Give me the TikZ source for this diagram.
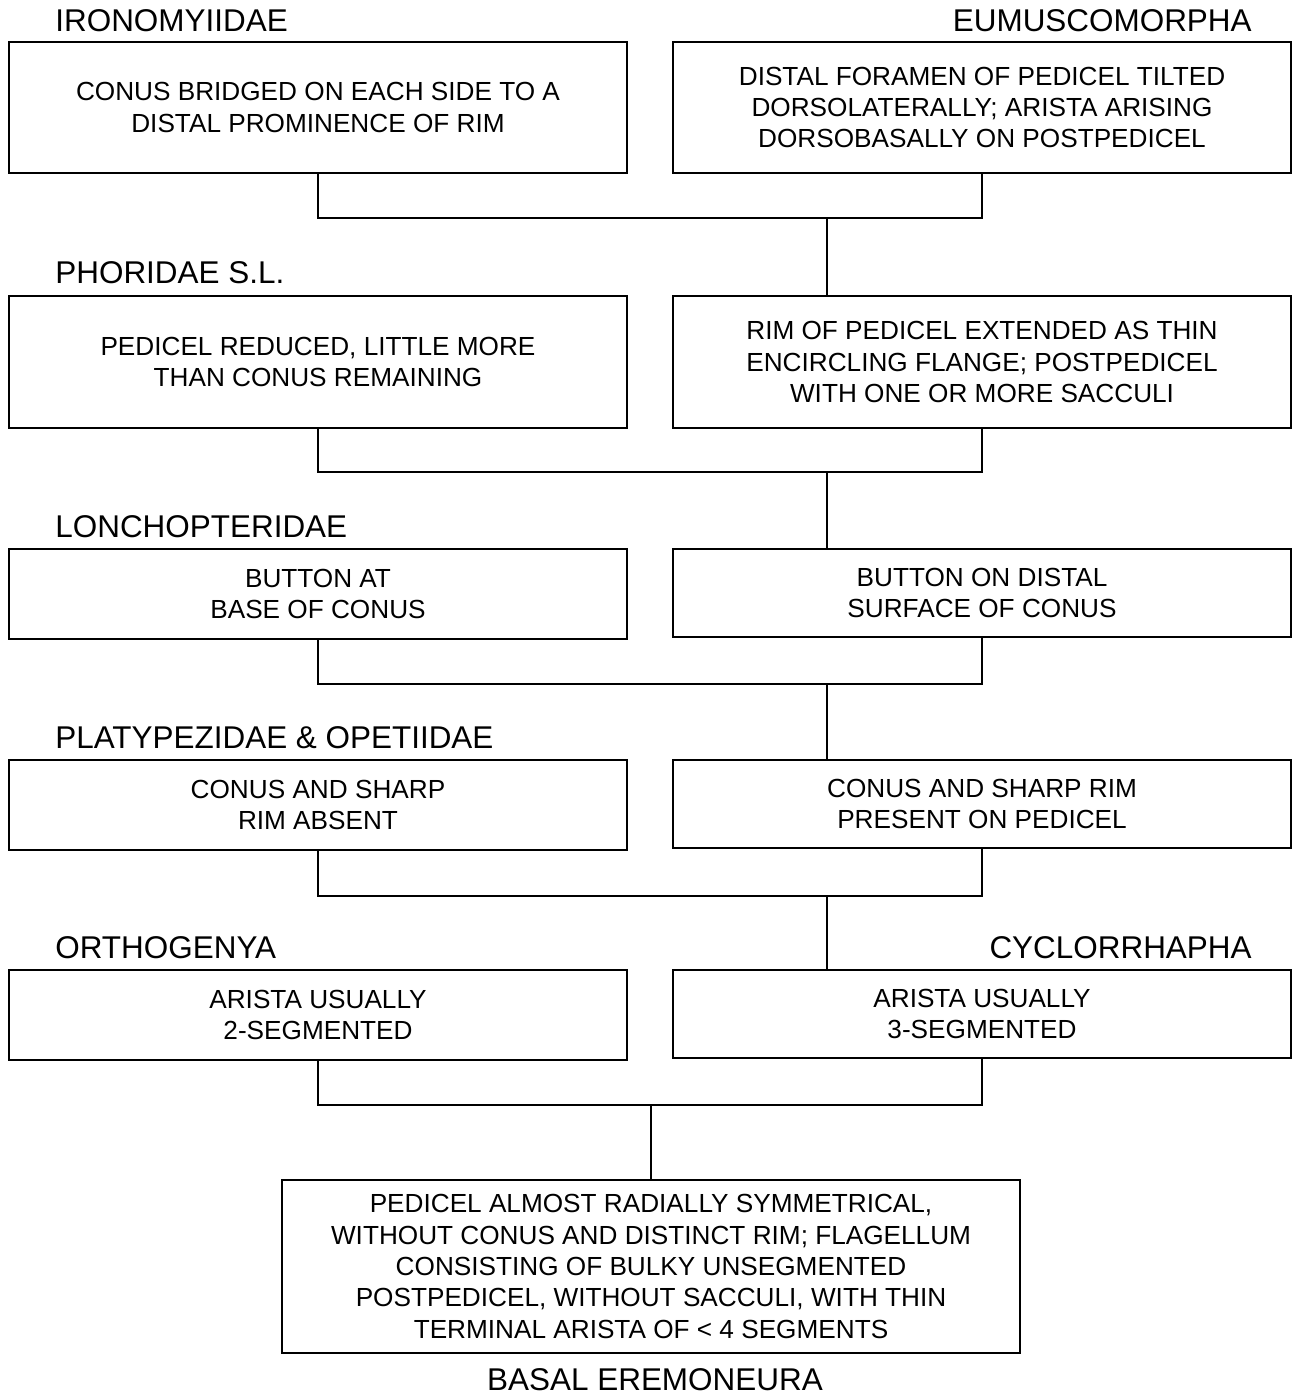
\documentclass[tikz,border=0pt]{standalone}
\usepackage{fontspec}
\setmainfont{Liberation Sans}
\usetikzlibrary{positioning}

\begin{document}
\begin{tikzpicture}[
  x=0.02cm, y=-0.02cm,
  box/.style={draw, line width=1.5pt, align=center, inner sep=4pt, outer sep=0pt,
              minimum width=12.36cm, font=\fontsize{14.9}{17.8}\selectfont},
  taxon/.style={inner sep=0pt, font=\fontsize{17.9}{20}\selectfont},
  link/.style={line width=1.2pt}
]
  \useasboundingbox (0,0) rectangle (1294,1395);

  % row 1
  \node[box, minimum height=2.62cm] (iron) at (318,107.5) {CONUS BRIDGED ON EACH SIDE TO A\\ DISTAL PROMINENCE OF RIM};
  \node[box, minimum height=2.62cm] (eumu) at (982,107.5) {DISTAL FORAMEN OF PEDICEL TILTED\\ DORSOLATERALLY; ARISTA ARISING\\ DORSOBASALLY ON POSTPEDICEL};
  \node[taxon, anchor=base west] (ironlab) at (55,32) {IRONOMYIIDAE};
  \node[taxon, anchor=base east] (eumulab) at (1252,32) {EUMUSCOMORPHA};

  % row 2
  \node[box, minimum height=2.64cm] (phor) at (318,362) {PEDICEL REDUCED, LITTLE MORE\\ THAN CONUS REMAINING};
  \node[box, minimum height=2.64cm] (flange) at (982,362) {RIM OF PEDICEL EXTENDED AS THIN\\ ENCIRCLING FLANGE; POSTPEDICEL\\ WITH ONE OR MORE SACCULI};
  \node[taxon, anchor=base west] (phorlab) at (55,284) {PHORIDAE S.L.};

  % row 3
  \node[box, minimum height=1.8cm] (lonc) at (318,594) {BUTTON AT\\ BASE OF CONUS};
  \node[box, minimum height=1.76cm] (button) at (982,593) {BUTTON ON DISTAL\\ SURFACE OF CONUS};
  \node[taxon, anchor=base west] (lonclab) at (55,537) {LONCHOPTERIDAE};

  % row 4
  \node[box, minimum height=1.8cm] (platy) at (318,805) {CONUS AND SHARP\\ RIM ABSENT};
  \node[box, minimum height=1.76cm] (conus) at (982,804) {CONUS AND SHARP RIM\\ PRESENT ON PEDICEL};
  \node[taxon, anchor=base west] (platylab) at (55,748) {PLATYPEZIDAE \& OPETIIDAE};

  % row 5
  \node[box, minimum height=1.8cm] (ortho) at (318,1015) {ARISTA USUALLY\\ 2-SEGMENTED};
  \node[box, minimum height=1.76cm] (cyclo) at (982,1014) {ARISTA USUALLY\\ 3-SEGMENTED};
  \node[taxon, anchor=base west] (ortholab) at (55,958) {ORTHOGENYA};
  \node[taxon, anchor=base east] (cyclolab) at (1252,958) {CYCLORRHAPHA};

  % base
  \node[box, minimum width=14.76cm, minimum height=3.46cm] (basal) at (651,1266.5)
    {PEDICEL ALMOST RADIALLY SYMMETRICAL,\\ WITHOUT CONUS AND DISTINCT RIM; FLAGELLUM\\
     CONSISTING OF BULKY UNSEGMENTED\\ POSTPEDICEL, WITHOUT SACCULI, WITH THIN\\
     TERMINAL ARISTA OF < 4 SEGMENTS};
  \node[taxon, anchor=base] (basallab) at (655,1390) {BASAL EREMONEURA};

  % connectors
  \coordinate (j1) at (827,218);
  \coordinate (j2) at (827,472);
  \coordinate (j3) at (827,684);
  \coordinate (j4) at (827,896);
  \coordinate (j5) at (651,1105);

  \draw[link] (iron.south) |- (j1) -| (eumu.south);
  \draw[link] (j1) -- (j1 |- flange.north);
  \draw[link] (phor.south) |- (j2) -| (flange.south);
  \draw[link] (j2) -- (j2 |- button.north);
  \draw[link] (lonc.south) |- (j3) -| (button.south);
  \draw[link] (j3) -- (j3 |- conus.north);
  \draw[link] (platy.south) |- (j4) -| (conus.south);
  \draw[link] (j4) -- (j4 |- cyclo.north);
  \draw[link] (ortho.south) |- (j5) -| (cyclo.south);
  \draw[link] (j5) -- (basal.north);
\end{tikzpicture}
\end{document}
